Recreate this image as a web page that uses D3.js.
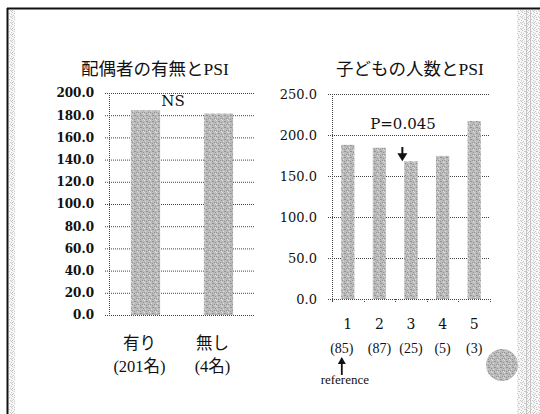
<!DOCTYPE html>
<html>
<head>
<meta charset="utf-8">
<script src="https://cdn.jsdelivr.net/npm/d3@7"></script>
<style>
  html, body { margin: 0; padding: 0; background: #fff; }
  svg { display: block; }
  text { font-family: "Liberation Serif", "Noto Sans CJK JP", serif; fill: #111; }
  .num { font-family: "DejaVu Serif", "Noto Sans CJK JP", serif; }
</style>
</head>
<body>
<script>
// 配偶者の有無とPSI
const spouseCats = ["有り", "無し"];
const spouseCounts = ["(201名)", "(4名)"];
const spousePSI = [184.5, 181.5];
const spouseTicks = [0, 20, 40, 60, 80, 100, 120, 140, 160, 180, 200];

// 子どもの人数とPSI
const childCats = ["1", "2", "3", "4", "5"];
const childCounts = ["(85)", "(87)", "(25)", "(5)", "(3)"];
const childPSI = [188, 184.5, 168, 174.5, 217];
const childTicks = [0, 50, 100, 150, 200, 250];

const W = 540, H = 414;
const svg = d3.select("body").append("svg").attr("width", W).attr("height", H);
const defs = svg.append("defs");

// stippled gray fill for bars and the round marker
const dots = [[0, 0], [3, 1], [5, 2], [1, 3], [4, 4], [2, 5], [5, 5], [2, 1], [0, 4]];
const pat = defs.append("pattern").attr("id", "stipple")
  .attr("width", 6).attr("height", 6).attr("patternUnits", "userSpaceOnUse");
pat.append("rect").attr("width", 6).attr("height", 6).attr("fill", "#bcbcbc");
dots.forEach(([x, y], i) =>
  pat.append("rect").attr("x", x).attr("y", y).attr("width", 1).attr("height", 1)
    .attr("fill", i % 3 ? "#939393" : "#dcdcdc"));

// light stipple for the slide side bands
const pat2 = defs.append("pattern").attr("id", "lightStipple")
  .attr("width", 6).attr("height", 6).attr("patternUnits", "userSpaceOnUse");
pat2.append("rect").attr("width", 6).attr("height", 6).attr("fill", "#f6f6f6");
dots.forEach(([x, y]) =>
  pat2.append("rect").attr("x", x).attr("y", y).attr("width", 1).attr("height", 1).attr("fill", "#c8c8c8"));

// slide frame
svg.append("rect").attr("x", 9).attr("y", 10).attr("width", 6).attr("height", H - 10).attr("fill", "url(#lightStipple)");
svg.append("rect").attr("x", 517).attr("y", 10).attr("width", 23).attr("height", H - 10).attr("fill", "url(#lightStipple)");
svg.append("line").attr("x1", 526.5).attr("x2", 526.5).attr("y1", 10).attr("y2", H).attr("stroke", "#c4c4c4");
svg.append("line").attr("x1", 530.5).attr("x2", 530.5).attr("y1", 10).attr("y2", H).attr("stroke", "#c4c4c4");
svg.append("line").attr("x1", 7).attr("x2", W).attr("y1", 8.5).attr("y2", 8.5).attr("stroke", "#111").attr("stroke-width", 2);
svg.append("line").attr("x1", 7.5).attr("x2", 7.5).attr("y1", 8).attr("y2", H).attr("stroke", "#111").attr("stroke-width", 2);

const dotted = sel => sel.attr("stroke", "#444").attr("stroke-width", 1).attr("stroke-dasharray", "1 1").attr("fill", "none");
const fmt = d3.format(".1f");

// ---------- left panel ----------
const L = { x0: 109, x1: 255, y0: 315, y1: 93 };
const xL = d3.scaleBand().domain(spouseCats).range([L.x0, L.x1]).paddingInner(0.6).paddingOuter(0.3);
const yL = d3.scaleLinear().domain([0, 200]).range([L.y0, L.y1]);

const gL = svg.append("g");
gL.append("text").attr("x", 155).attr("y", 75).attr("text-anchor", "middle")
  .style("font-size", "17.5px").text("配偶者の有無とPSI");

gL.selectAll(".grid").data(spouseTicks).join("line")
  .attr("x1", L.x0 - 4).attr("x2", L.x1)
  .attr("y1", d => yL(d) + 0.5).attr("y2", d => yL(d) + 0.5).call(dotted);
gL.append("line").attr("x1", L.x0 + 0.5).attr("x2", L.x0 + 0.5).attr("y1", L.y1).attr("y2", L.y0).call(dotted);

const axL = gL.append("g").attr("transform", `translate(${L.x0},0)`)
  .call(d3.axisLeft(yL).tickValues(spouseTicks).tickFormat(fmt).tickSize(0).tickPadding(15));
axL.select(".domain").remove();
axL.attr("font-family", null);
axL.selectAll("text").attr("class", "num")
  .style("font-size", "12px").style("font-weight", "bold").attr("fill", "#111");

gL.selectAll(".bar").data(spousePSI).join("rect")
  .attr("x", (d, i) => xL(spouseCats[i])).attr("width", xL.bandwidth())
  .attr("y", d => yL(d)).attr("height", d => yL(0) - yL(d))
  .attr("fill", "url(#stipple)");

gL.append("text").attr("class", "num")
  .attr("x", (xL(spouseCats[0]) + xL.bandwidth() + xL(spouseCats[1])) / 2 - 9)
  .attr("y", yL(188)).attr("text-anchor", "middle").style("font-size", "15px").text("NS");

gL.selectAll(".cat").data(spouseCats).join("text")
  .attr("x", d => xL(d) + xL.bandwidth() / 2 - 6).attr("y", 349)
  .attr("text-anchor", "middle").style("font-size", "16.5px").text(d => d);
gL.selectAll(".cnt").data(spouseCounts).join("text")
  .attr("x", (d, i) => xL(spouseCats[i]) + xL.bandwidth() / 2 - 6).attr("y", 372)
  .attr("text-anchor", "middle").style("font-size", "16.5px").text(d => d);

// ---------- right panel ----------
const R = { x0: 332, x1: 490, y0: 299, y1: 94 };
const xR = d3.scaleBand().domain(childCats).range([R.x0, R.x1]).paddingInner(0.58).paddingOuter(0.29);
const xRb = d3.scaleBand().domain(childCats).range([R.x0, R.x1]);
const yR = d3.scaleLinear().domain([0, 250]).range([R.y0, R.y1]);

const gR = svg.append("g");
gR.append("text").attr("x", 410).attr("y", 75).attr("text-anchor", "middle")
  .style("font-size", "17.5px").text("子どもの人数とPSI");

gR.selectAll(".grid").data(childTicks).join("line")
  .attr("x1", R.x0 - 4).attr("x2", R.x1)
  .attr("y1", d => yR(d) + 0.5).attr("y2", d => yR(d) + 0.5).call(dotted);
gR.append("line").attr("x1", R.x0 + 0.5).attr("x2", R.x0 + 0.5).attr("y1", R.y1).attr("y2", R.y0 + 3).call(dotted);

const axR = gR.append("g").attr("transform", `translate(${R.x0},0)`)
  .call(d3.axisLeft(yR).tickValues(childTicks).tickFormat(fmt).tickSize(0).tickPadding(15));
axR.select(".domain").remove();
axR.attr("font-family", null);
axR.selectAll("text").attr("class", "num")
  .style("font-size", "13px").attr("fill", "#111");

// category boundary ticks under the x axis
const bounds = childCats.map(c => xRb(c)).concat([R.x1]);
gR.selectAll(".xt").data(bounds).join("line")
  .attr("x1", d => Math.round(d) + 0.5).attr("x2", d => Math.round(d) + 0.5)
  .attr("y1", R.y0).attr("y2", R.y0 + 4).call(dotted);

gR.selectAll(".bar").data(childPSI).join("rect")
  .attr("x", (d, i) => xR(childCats[i])).attr("width", xR.bandwidth())
  .attr("y", d => yR(d)).attr("height", d => yR(0) - yR(d))
  .attr("fill", "url(#stipple)");

gR.selectAll(".cat").data(childCats).join("text").attr("class", "num")
  .attr("x", d => xR(d) + xR.bandwidth() / 2).attr("y", 329)
  .attr("text-anchor", "middle").style("font-size", "14px").text(d => d);
gR.selectAll(".cnt").data(childCounts).join("text")
  .attr("x", (d, i) => xR(childCats[i]) + xR.bandwidth() / 2 - (i === 0 ? 6 : 0)).attr("y", 353)
  .attr("text-anchor", "middle").style("font-size", "14px").text(d => d);

// significance note for the 3-child group
const ax3 = xR(childCats[2]) - 2;
const tip3 = yR(childPSI[2]);
gR.append("text").attr("class", "num").attr("x", 403).attr("y", 129).attr("text-anchor", "middle")
  .style("font-size", "15px").text("P=0.045");
gR.append("line").attr("x1", ax3).attr("x2", ax3).attr("y1", 147).attr("y2", tip3 - 6)
  .attr("stroke", "#111").attr("stroke-width", 2);
gR.append("path").attr("d", `M${ax3 - 5},${tip3 - 8} L${ax3 + 5},${tip3 - 8} L${ax3},${tip3} Z`)
  .attr("fill", "#111");

// reference-group marker
const refX = xR(childCats[0]) + xR.bandwidth() / 2 - 6;
gR.append("path").attr("d", `M${refX - 4},364 L${refX + 4},364 L${refX},357 Z`).attr("fill", "#111");
gR.append("line").attr("x1", refX).attr("x2", refX).attr("y1", 363).attr("y2", 375)
  .attr("stroke", "#111").attr("stroke-width", 1.8);
gR.append("text").attr("x", refX + 3).attr("y", 384).attr("text-anchor", "middle")
  .style("font-size", "13px").text("reference");

// round marker at the lower right
svg.append("circle").attr("cx", 502).attr("cy", 365).attr("r", 16).attr("fill", "url(#stipple)");
</script>
</body>
</html>
